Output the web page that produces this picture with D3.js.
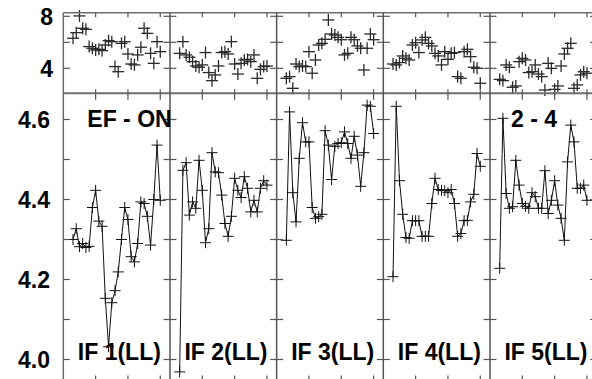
<!DOCTYPE html>
<html>
<head>
<meta charset="utf-8">
<script src="https://cdn.jsdelivr.net/npm/d3@7/dist/d3.min.js"></script>
<style>
  html, body { margin: 0; padding: 0; background: #fff; }
  svg { display: block; }
  text { font-family: "Liberation Sans", Arial, sans-serif; font-weight: bold; }
</style>
</head>
<body>
<svg id="chart" width="592" height="379"></svg>
<script>
// ---------- data ----------
const panelLabels = ["IF 1(LL)", "IF 2(LL)", "IF 3(LL)", "IF 4(LL)", "IF 5(LL)"];
const samples = [3,4,5,6,7,8,9,10,11,12,13,14,15,16,17,18,19,20,21,22,23,24,25,26,27,28,29,30];

const mainIF1 = [4.300,4.327,4.282,4.290,4.280,4.283,4.380,4.423,4.346,4.333,4.153,4.032,4.142,4.172,4.219,4.300,4.380,4.350,4.257,4.244,4.290,4.394,4.390,4.358,4.286,4.400,4.536,4.398];
const mainIF2 = [3.969,4.473,4.492,4.361,4.394,4.378,4.498,4.423,4.292,4.327,4.517,4.469,4.467,4.411,4.340,4.308,4.358,4.453,4.423,4.405,4.457,4.428,4.369,4.398,4.369,4.428,4.447,4.436];
const mainIF3 = [4.298,4.619,4.417,4.344,4.503,4.592,4.544,4.544,4.380,4.353,4.357,4.363,4.572,4.536,4.450,4.533,4.540,4.542,4.569,4.540,4.503,4.558,4.511,4.433,4.517,4.636,4.633,4.565];
const mainIF4 = [4.207,4.633,4.447,4.363,4.305,4.303,4.347,4.347,4.347,4.308,4.308,4.308,4.390,4.453,4.425,4.423,4.422,4.417,4.425,4.390,4.308,4.315,4.347,4.348,4.394,4.413,4.515,4.483];
const mainIF5 = [4.228,4.603,4.415,4.378,4.382,4.498,4.436,4.390,4.383,4.378,4.417,4.407,4.378,4.378,4.472,4.365,4.398,4.447,4.386,4.353,4.298,4.494,4.586,4.544,4.428,4.428,4.436,4.398];

const topIF1 = [6.31,6.74,8.03,7.08,7.00,5.67,5.54,5.41,5.46,5.36,5.79,6.13,6.05,4.13,3.74,5.92,6.05,5.10,4.33,4.26,5.03,5.62,7.08,6.69,5.15,4.38,6.05,5.28];
const topIF2 = [5.15,6.05,5.03,4.85,4.51,4.18,4.08,4.26,5.21,3.67,3.05,3.49,4.18,5.21,5.28,5.10,6.05,4.33,3.56,4.38,4.64,4.69,4.51,5.03,3.23,3.92,4.13,4.18];
const topIF3 = [3.23,3.36,2.46,4.33,4.13,4.18,4.13,5.28,3.62,4.64,5.79,5.92,6.23,7.72,6.64,6.56,6.38,6.20,5.03,5.15,6.38,6.20,5.72,5.54,3.87,5.54,6.64,6.20];
const topIF4 = [4.33,4.26,4.44,4.95,4.77,4.64,5.79,5.97,5.21,6.18,6.38,5.92,5.72,5.15,4.95,4.26,5.28,4.69,5.15,5.21,3.36,3.23,5.28,5.46,4.90,4.08,4.00,2.85];
const topIF5 = [3.15,3.05,4.26,4.08,2.54,2.64,4.51,4.77,4.64,3.67,3.74,4.26,3.56,3.36,2.33,4.38,4.00,2.38,2.64,4.18,5.10,5.54,5.92,2.46,2.72,3.49,3.74,3.62];

const mainSeries = [mainIF1, mainIF2, mainIF3, mainIF4, mainIF5];
const topSeries = [topIF1, topIF2, topIF3, topIF4, topIF5];

const mainTicks = [4.0, 4.1, 4.2, 4.3, 4.4, 4.5, 4.6];
const mainTickLabels = ["4.0", "", "4.2", "", "4.4", "", "4.6"];
const topTicks = [4, 6, 8];
const topTickLabels = ["4", "", "8"];
const xTicks = [10, 20, 30];
const titleLeft = "EF - ON";
const titleRight = "2 - 4";

// ---------- layout ----------
const svg = d3.select("#chart");
const left = 63.3, pw = 106.67, nP = 5;
const topY0 = 12.7, midY = 93.3, botY = 381;
const axisColor = "#6e6e6e";

const yTop = d3.scaleLinear().domain([4, 6]).range([68.3, 42.3]);
const yMain = d3.scaleLinear().domain([4.0, 4.6]).range([359.5, 119.5]);
const xPanel = d3.scaleBand().domain(d3.range(nP)).range([left, left + nP * pw]).padding(0);
const xLocal = d3.scaleLinear().domain([0, 33]).range([0, pw]);

const gData = svg.append("g");
const gAxes = svg.append("g");

// frame lines
const right = left + nP * pw;
gAxes.append("line").attr("x1", left).attr("x2", right).attr("y1", topY0).attr("y2", topY0)
  .attr("stroke", axisColor).attr("stroke-width", 1.5);
gAxes.append("line").attr("x1", left).attr("x2", right).attr("y1", midY).attr("y2", midY)
  .attr("stroke", axisColor).attr("stroke-width", 2);
gAxes.append("line").attr("x1", left).attr("x2", right).attr("y1", botY).attr("y2", botY)
  .attr("stroke", axisColor).attr("stroke-width", 1.5);

// vertical boundaries
const bounds = d3.range(nP + 1).map(i => left + i * pw);
bounds.forEach((bx, i) => {
  gAxes.append("line").attr("x1", bx).attr("x2", bx).attr("y1", topY0).attr("y2", botY)
    .attr("stroke", i === 0 ? axisColor : "#555").attr("stroke-width", 1.5);
  const x1 = i === 0 ? bx : bx - 6.5;
  const x2 = i === nP ? bx : bx + 6.5;
  mainTicks.forEach(t => {
    gAxes.append("line").attr("x1", x1).attr("x2", x2)
      .attr("y1", yMain(t)).attr("y2", yMain(t))
      .attr("stroke", "#555").attr("stroke-width", 1.2);
  });
  topTicks.forEach(t => {
    gAxes.append("line").attr("x1", x1).attr("x2", x2)
      .attr("y1", yTop(t)).attr("y2", yTop(t))
      .attr("stroke", "#555").attr("stroke-width", 1.2);
  });
});

// x ticks in each panel
d3.range(nP).forEach(p => {
  const x0 = xPanel(p);
  xTicks.forEach(t => {
    const x = x0 + xLocal(t);
    [[topY0, topY0 + 4.5], [midY - 4, midY + 6.5], [botY - 5.5, botY]].forEach(([a, b]) => {
      gAxes.append("line").attr("x1", x).attr("x2", x).attr("y1", a).attr("y2", b)
        .attr("stroke", "#555").attr("stroke-width", 1.2);
    });
  });
});

// y labels
mainTicks.forEach((t, i) => {
  if (!mainTickLabels[i]) return;
  gAxes.append("text").attr("x", 50).attr("y", yMain(t) + 8.4)
    .attr("text-anchor", "end").attr("font-size", 23).attr("fill", "#000")
    .text(mainTickLabels[i]);
});
topTicks.forEach((t, i) => {
  if (!topTickLabels[i]) return;
  gAxes.append("text").attr("x", 53).attr("y", yTop(t) + 8.6)
    .attr("text-anchor", "end").attr("font-size", 23).attr("fill", "#000")
    .text(topTickLabels[i]);
});

// data
const plus = (g, x, y, h, color, w) => {
  g.append("line").attr("x1", x - h).attr("x2", x + h).attr("y1", y).attr("y2", y)
    .attr("stroke", color).attr("stroke-width", w);
  g.append("line").attr("x1", x).attr("x2", x).attr("y1", y - h).attr("y2", y + h)
    .attr("stroke", color).attr("stroke-width", w);
};

d3.range(nP).forEach(p => {
  const x0 = xPanel(p);
  const mainPts = samples.map((s, i) => [x0 + xLocal(s), yMain(mainSeries[p][i])]);
  gData.append("path").attr("d", d3.line()(mainPts))
    .attr("fill", "none").attr("stroke", "#111").attr("stroke-width", 1);
  mainPts.forEach(([x, y]) => plus(gData, x, y, 5.5, "#111", 1));

  samples.forEach((s, i) => {
    plus(gData, x0 + xLocal(s), yTop(topSeries[p][i]), 6, "#2a2a2a", 1.3);
  });
});

// titles / panel labels
const gText = svg.append("g");
gText.append("text").attr("x", left + 24).attr("y", 126.5)
  .attr("font-size", 23).attr("fill", "#000").text(titleLeft);
gText.append("text").attr("x", xPanel(4) + 21).attr("y", 126.5)
  .attr("font-size", 23).attr("fill", "#000").text(titleRight);
panelLabels.forEach((lab, p) => {
  gText.append("text").attr("x", xPanel(p) + 14.5).attr("y", 360)
    .attr("font-size", 23).attr("fill", "#000").text(lab);
});
</script>
</body>
</html>
